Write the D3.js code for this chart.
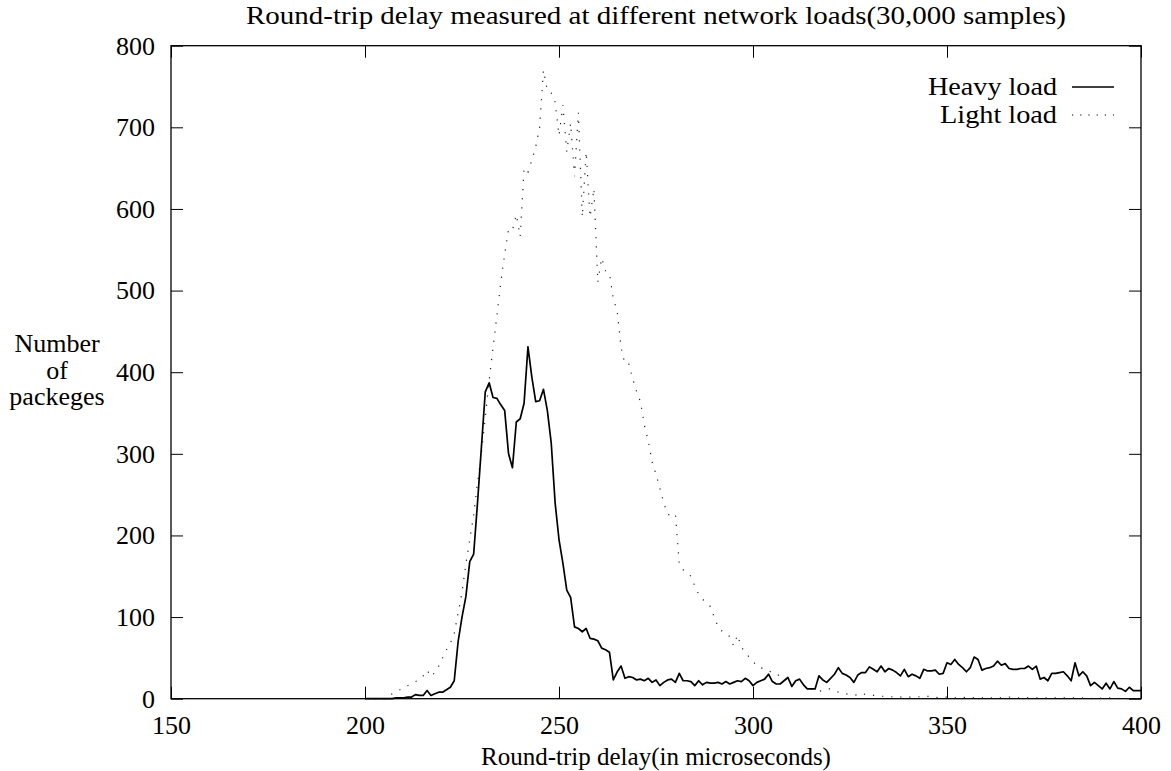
<!DOCTYPE html>
<html>
<head>
<meta charset="utf-8">
<script src="https://cdn.jsdelivr.net/npm/d3@7"></script>
<style>
  html, body { margin: 0; padding: 0; background: #fff; }
  svg { display: block; }
  text { font-family: "Liberation Serif", "Times New Roman", serif; fill: #000; }
</style>
</head>
<body>
<svg id="chart"></svg>
<script>
// round-trip delay histogram, one bin per microsecond starting at delayStart
const delayStart = 200
const heavyLoad = [
  0, 0, 0, 0, 0, 0, 0, 0,
  1, 1, 1, 2, 2, 5, 4, 4,
  10, 4, 6, 8, 8, 11, 14, 22,
  70, 100, 125, 168, 177, 240, 308, 376,
  387, 369, 368, 360, 353, 300, 283, 339,
  343, 362, 431, 394, 364, 365, 379, 353,
  313, 240, 195, 166, 133, 124, 88, 86,
  82, 86, 74, 73, 71, 62, 60, 57,
  23, 33, 40, 25, 27, 26, 23, 24,
  22, 25, 20, 23, 16, 20, 23, 24,
  20, 31, 22, 22, 21, 16, 22, 17,
  20, 19, 19, 20, 18, 21, 18, 20,
  22, 21, 25, 22, 16, 20, 22, 24,
  30, 21, 18, 18, 22, 26, 15, 22,
  24, 17, 12, 12, 12, 28, 23, 20,
  25, 30, 38, 31, 29, 26, 20, 29,
  32, 32, 39, 36, 33, 40, 33, 37,
  35, 32, 28, 36, 27, 30, 28, 25,
  36, 34, 34, 35, 30, 31, 44, 42,
  48, 42, 38, 33, 38, 51, 48, 35,
  37, 38, 40, 46, 41, 43, 37, 36,
  36, 37, 37, 40, 36, 40, 24, 26,
  22, 31, 31, 32, 33, 28, 22, 44,
  28, 33, 28, 16, 20, 16, 12, 19,
  12, 21, 13, 12, 9, 14, 10, 10,
  10
]
const lightLoad = [
  0, 0, 0, 0, 0, 0, 2, 6,
  9, 11, 14, 16, 19, 21, 23,
  28, 35, 27, 32, 40, 50, 60, 68,
  80, 105, 130, 165, 195, 225, 265, 300,
  345, 390, 430, 470, 510, 545, 575, 574,
  593, 566, 650, 645, 660, 676, 700, 770,
  745, 742, 731, 690, 727, 670, 705, 640,
  718, 590, 670, 590, 625, 510, 540, 524,
  521, 490, 475, 430, 410, 410, 392, 376,
  364, 335, 316, 290, 275, 258, 240, 226,
  224, 226, 165, 158, 155, 150, 138, 128,
  122, 117, 113, 100, 88, 83, 80, 76,
  65, 78, 63, 57, 51, 46, 40, 38,
  36, 35, 31, 29, 29, 25, 23, 21,
  19, 18, 17, 14, 12, 10, 9, 10,
  12, 12, 10, 8, 7, 6, 5, 4,
  5, 7, 5, 4, 4, 4, 3, 3,
  3, 2, 3, 2, 3, 2, 2, 3,
  2, 2, 3, 2, 2, 1, 2, 2,
  2, 1, 2, 2, 1, 2, 1, 2,
  1, 2, 1, 1, 2, 1, 1, 2,
  1, 1, 1, 2, 1, 1, 1, 1,
  1, 1, 1, 1, 0, 1, 1, 1,
  1, 0, 1, 1, 0, 1, 0, 1,
  0, 1, 0, 0, 1, 0, 0, 0,
  0, 0
]
const xTicks = [150, 200, 250, 300, 350, 400]
const yTicks = [0, 100, 200, 300, 400, 500, 600, 700, 800]
const seriesNames = ['Heavy load', 'Light load']
const titleText = 'Round-trip delay measured at different network loads(30,000 samples)'
const xLabelText = 'Round-trip delay(in microseconds)'
const yLabelLines = ['Number', 'of', 'packeges']

const width = 1171
const height = 771
const margin = { top: 45.7, right: 30, bottom: 72.3, left: 171 }
const innerW = width - margin.left - margin.right
const innerH = height - margin.top - margin.bottom
const fontSize = 26
const tickLen = 12

const svg = d3.select('#chart')
  .attr('width', width)
  .attr('height', height)

const x = d3.scaleLinear().domain([150, 400]).range([0, innerW])
const y = d3.scaleLinear().domain([0, 800]).range([innerH, 0])

const g = svg.append('g')
  .attr('transform', `translate(${margin.left},${margin.top})`)

// axes: labels outside, ticks pointing in, mirrored on top/right
const styleAxis = (sel) => {
  sel.select('.domain').remove()
  sel.selectAll('line').attr('stroke', '#000').attr('stroke-width', 1)
  sel.selectAll('text')
    .style('font-size', `${fontSize}px`)
    .style('font-family', '"Liberation Serif", serif')
}

g.append('g')
  .attr('transform', `translate(0,${innerH})`)
  .call(d3.axisBottom(x).tickValues(xTicks).tickSizeInner(-tickLen).tickSizeOuter(0).tickPadding(17))
  .call(styleAxis)

g.append('g')
  .call(d3.axisLeft(y).tickValues(yTicks).tickSizeInner(-tickLen).tickSizeOuter(0).tickPadding(16))
  .call(styleAxis)

g.append('g')
  .call(d3.axisTop(x).tickValues(xTicks).tickSizeInner(-tickLen).tickSizeOuter(0).tickFormat(''))
  .call(styleAxis)

g.append('g')
  .attr('transform', `translate(${innerW},0)`)
  .call(d3.axisRight(y).tickValues(yTicks).tickSizeInner(-tickLen).tickSizeOuter(0).tickFormat(''))
  .call(styleAxis)

g.append('rect')
  .attr('width', innerW)
  .attr('height', innerH)
  .attr('fill', 'none')
  .attr('stroke', '#000')
  .attr('stroke-width', 1.3)

const line = d3.line()
  .x((d, i) => x(delayStart + i))
  .y((d) => y(d))

g.append('path')
  .datum(lightLoad)
  .attr('fill', 'none')
  .attr('stroke', '#222')
  .attr('stroke-width', 1.2)
  .attr('stroke-dasharray', '1.2,8')
  .attr('d', line)

g.append('path')
  .datum(heavyLoad)
  .attr('fill', 'none')
  .attr('stroke', '#000')
  .attr('stroke-width', 1.7)
  .attr('stroke-linejoin', 'round')
  .attr('d', line)

// legend, top right inside the frame
const legendWidths = [129, 117]
const legend = svg.append('g')
seriesNames.forEach((name, i) => {
  const ly = 95 + i * 28
  legend.append('text')
    .attr('x', 1057)
    .attr('y', ly)
    .attr('text-anchor', 'end')
    .attr('textLength', legendWidths[i])
    .attr('lengthAdjust', 'spacingAndGlyphs')
    .style('font-size', `${fontSize}px`)
    .text(name)
  legend.append('line')
    .attr('x1', 1072)
    .attr('x2', 1114)
    .attr('y1', ly - 8)
    .attr('y2', ly - 8)
    .attr('stroke', '#000')
    .attr('stroke-width', i === 0 ? 1.7 : 1.2)
    .attr('stroke-dasharray', i === 0 ? null : '1.2,7')
})

svg.append('text')
  .attr('x', margin.left + innerW / 2)
  .attr('y', 24)
  .attr('text-anchor', 'middle')
  .attr('textLength', 820)
  .attr('lengthAdjust', 'spacingAndGlyphs')
  .style('font-size', `${fontSize}px`)
  .text(titleText)

svg.append('text')
  .attr('x', margin.left + innerW / 2)
  .attr('y', 765)
  .attr('text-anchor', 'middle')
  .style('font-size', '25px')
  .text(xLabelText)

svg.append('text')
  .attr('text-anchor', 'middle')
  .style('font-size', `${fontSize}px`)
  .selectAll('tspan')
  .data(yLabelLines)
  .join('tspan')
  .attr('x', 57)
  .attr('y', (d, i) => 352 + i * 26.5)
  .text((d) => d)
</script>
</body>
</html>
